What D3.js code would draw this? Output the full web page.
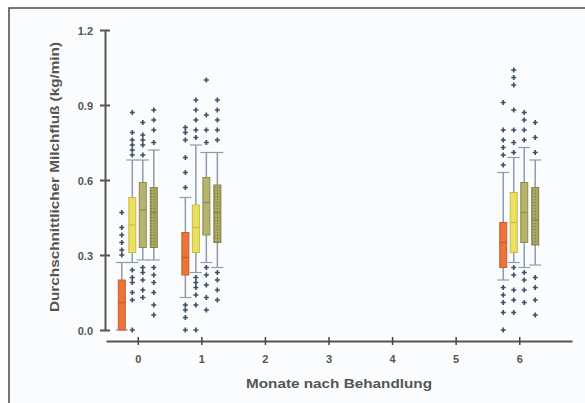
<!DOCTYPE html>
<html>
<head>
<meta charset="utf-8">
<script src="https://cdn.jsdelivr.net/npm/d3@7"></script>
<style>
  body { margin: 0; background: #fff; }
  text { font-family: "Liberation Sans", Arial, sans-serif; }
</style>
</head>
<body>
<script>
/* data */
var months = [0, 1, 6];
var series = ['orange', 'yellow', 'olive', 'olive2'];
var xTicks = [0, 1, 2, 3, 4, 5, 6];
var yTicks = [0, 0.3, 0.6, 0.9, 1.2];

/* box stats per month: [whiskerLow, q1, median, q3, whiskerHigh] */
var orangeStats = [[0.0, 0.0, 0.11, 0.20, 0.27], [0.13, 0.22, 0.29, 0.39, 0.53], [0.20, 0.25, 0.35, 0.43, 0.63]];
var yellowStats = [[0.27, 0.31, 0.42, 0.53, 0.68], [0.23, 0.31, 0.41, 0.50, 0.74], [0.27, 0.31, 0.43, 0.55, 0.69]];
var oliveStats = [[0.28, 0.33, 0.48, 0.59, 0.68], [0.27, 0.38, 0.51, 0.61, 0.71], [0.25, 0.35, 0.47, 0.59, 0.73]];
var olive2Stats = [[0.28, 0.33, 0.47, 0.57, 0.72], [0.25, 0.35, 0.47, 0.58, 0.71], [0.26, 0.34, 0.44, 0.57, 0.68]];

/* ausreisser */
var orangeOut = [
  [0.30, 0.32, 0.35, 0.38, 0.41, 0.47],
  [0.57, 0.63, 0.69, 0.76, 0.79, 0.81, 0.10, 0.08, 0.05, 0.0],
  [0.66, 0.70, 0.73, 0.76, 0.80, 0.91, 0.17, 0.14, 0.11, 0.07, 0.0]
];
var yellowOut = [
  [0.70, 0.72, 0.74, 0.76, 0.79, 0.87, 0.24, 0.21, 0.19, 0.15, 0.12, 0.0],
  [0.77, 0.80, 0.84, 0.88, 0.92, 0.21, 0.19, 0.17, 0.14, 0.10, 0.0],
  [0.71, 0.75, 0.80, 0.88, 0.98, 1.01, 1.04, 0.25, 0.22, 0.16, 0.12, 0.07]
];
var oliveOut = [
  [0.70, 0.74, 0.76, 0.78, 0.83, 0.25, 0.23, 0.20, 0.16, 0.13],
  [0.75, 0.80, 0.86, 1.0, 0.25, 0.22, 0.18, 0.13, 0.08],
  [0.76, 0.80, 0.84, 0.87, 0.23, 0.20, 0.16, 0.11]
];
var olive2Out = [
  [0.75, 0.80, 0.84, 0.88, 0.25, 0.22, 0.19, 0.15, 0.10, 0.06],
  [0.76, 0.80, 0.84, 0.88, 0.92, 0.23, 0.20, 0.16, 0.12],
  [0.71, 0.77, 0.83, 0.21, 0.17, 0.12, 0.06]
];

var stats = [orangeStats, yellowStats, oliveStats, olive2Stats];
var outs = [orangeOut, yellowOut, oliveOut, olive2Out];
var fills = ['#ea743a', '#ece060', '#b5b36e', 'url(#hatch)'];
var strokes = ['#c8602a', '#c9b94a', '#8e8c50', '#858446'];
var offsets = [-16, -5.5, 5, 16];
var boxW = 7;

var svg = d3.select('body').append('svg')
  .attr('width', 585)
  .attr('height', 403);

/* schraffur fuer die letzte serie */
var pat = svg.append('defs').append('pattern')
  .attr('id', 'hatch')
  .attr('width', 3).attr('height', 3)
  .attr('patternUnits', 'userSpaceOnUse');
pat.append('rect').attr('width', 3).attr('height', 3).attr('fill', '#a9a862');
pat.append('circle').attr('cx', 1.5).attr('cy', 1.5).attr('r', 0.7).attr('fill', '#7c7b42');

/* rahmen */
svg.append('rect')
  .attr('x', 9).attr('y', 8)
  .attr('width', 590).attr('height', 400)
  .attr('fill', '#fbfcfd')
  .attr('stroke', '#4a4a4a')
  .attr('stroke-width', 1.5);

var x = d3.scaleLinear().domain([-0.5, 6.83]).range([106, 572]);
var y = d3.scaleLinear().domain([0, 1.2]).range([330, 30]);

/* y achse */
var yAxis = svg.append('g')
  .attr('transform', 'translate(105,0)')
  .call(d3.axisLeft(y).tickValues(yTicks).tickFormat(d3.format('.1f')).tickSize(5).tickSizeOuter(0));
yAxis.select('.domain').attr('stroke', '#555').attr('stroke-width', 2);
yAxis.selectAll('.tick line').attr('x1', -5).attr('x2', 5).attr('stroke', '#555').attr('stroke-width', 2);
yAxis.selectAll('.tick text')
  .attr('x', -12)
  .attr('dy', '0.45em')
  .attr('fill', '#555')
  .style('font-size', '11px')
  .style('font-weight', 'bold');

/* x achse */
var xAxis = svg.append('g')
  .attr('transform', 'translate(0,341)')
  .call(d3.axisBottom(x).tickValues(xTicks).tickFormat(d3.format('d')).tickSize(4).tickSizeOuter(0));
xAxis.select('.domain').attr('stroke', '#555').attr('stroke-width', 2);
xAxis.selectAll('.tick line').attr('y1', -4).attr('y2', 4).attr('stroke', '#444').attr('stroke-width', 1.5);
xAxis.selectAll('.tick text')
  .attr('y', 14)
  .attr('fill', '#555')
  .style('font-size', '11px')
  .style('font-weight', 'bold');

/* boxplots */
series.forEach(function (s, si) {
  var g = svg.append('g');
  months.forEach(function (m, mi) {
    var st = stats[si][mi];
    var cx = x(m) + offsets[si];
    /* whisker */
    g.append('line')
      .attr('x1', cx).attr('x2', cx)
      .attr('y1', y(st[0])).attr('y2', y(st[4]))
      .attr('stroke', '#8c9cb2').attr('stroke-width', 1.5);
    [st[0], st[4]].forEach(function (v) {
      g.append('line')
        .attr('x1', cx - 6).attr('x2', cx + 6)
        .attr('y1', y(v)).attr('y2', y(v))
        .attr('stroke', '#8c9cb2').attr('stroke-width', 1.2);
    });
    /* box */
    g.append('rect')
      .attr('x', cx - boxW / 2)
      .attr('y', y(st[3]))
      .attr('width', boxW)
      .attr('height', y(st[1]) - y(st[3]))
      .attr('fill', fills[si])
      .attr('stroke', strokes[si])
      .attr('stroke-width', 1);
    /* median */
    g.append('line')
      .attr('x1', cx - boxW / 2).attr('x2', cx + boxW / 2)
      .attr('y1', y(st[2])).attr('y2', y(st[2]))
      .attr('stroke', strokes[si]).attr('stroke-width', 1.2);
    /* ausreisser */
    g.selectAll(null)
      .data(outs[si][mi])
      .enter().append('path')
      .attr('transform', function (d) { return 'translate(' + cx + ',' + y(d) + ')'; })
      .attr('d', d3.symbol().type(d3.symbolCross).size(14))
      .attr('fill', '#3f4f66');
  });
});

/* achsentitel */
svg.append('text')
  .attr('transform', 'translate(59,177) rotate(-90)')
  .attr('text-anchor', 'middle')
  .attr('fill', '#555')
  .style('font-size', '13px')
  .style('font-weight', 'bold')
  .attr('textLength', 270)
  .attr('lengthAdjust', 'spacingAndGlyphs')
  .text('Durchschnittlicher Milchfluß (kg/min)');

svg.append('text')
  .attr('x', 339)
  .attr('y', 388)
  .attr('text-anchor', 'middle')
  .attr('fill', '#555')
  .style('font-size', '13px')
  .style('font-weight', 'bold')
  .attr('textLength', 186)
  .attr('lengthAdjust', 'spacingAndGlyphs')
  .text('Monate nach Behandlung');
</script>
</body>
</html>
